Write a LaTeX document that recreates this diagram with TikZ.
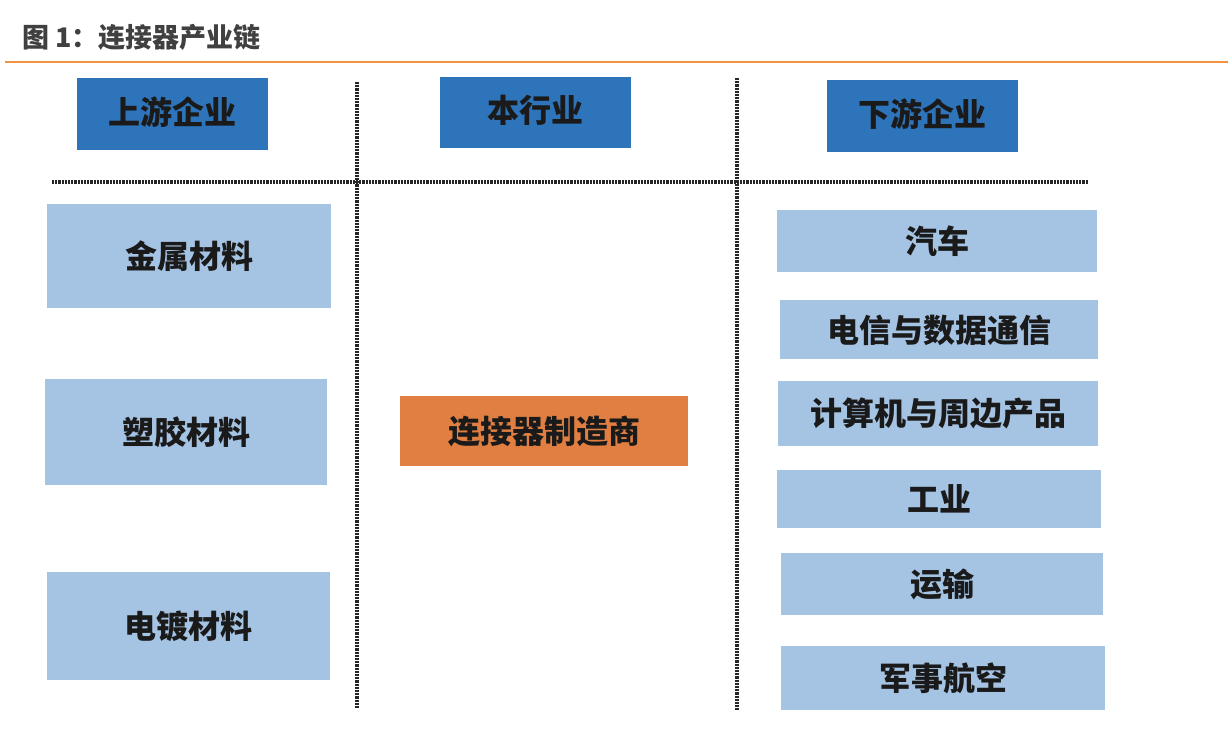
\documentclass[tikz,border=0pt]{standalone}
\usepackage{fontspec}
\setmainfont{Noto Sans CJK SC}
\definecolor{hdrblue}{HTML}{2E74BA}
\definecolor{lightblue}{HTML}{A5C3E3}
\definecolor{boxorange}{HTML}{E07F41}
\definecolor{lineorange}{HTML}{F0923F}
\definecolor{titlegray}{HTML}{404040}
\definecolor{txt}{HTML}{1A1A1A}
\tikzset{
  lbl/.style={inner sep=0pt, text=txt, font=\fontsize{32}{36}\selectfont\bfseries},
  sep/.style={line width=3.5pt, black!85, dash pattern=on 2.2pt off 1pt},
}
\begin{document}
\begin{tikzpicture}[x=1pt,y=-1pt]
\useasboundingbox (0,0) rectangle (1228,738);
% title
\node[anchor=west, text=titlegray, font=\fontsize{27}{30}\selectfont\bfseries, inner sep=0pt] (title) at (22,37) {图 1：连接器产业链};
\coordinate (tl) at (5,62); \coordinate (tr) at (1228,62);
\draw[lineorange, line width=1.6pt] (tl) -- (tr);
% separators
\coordinate (h1) at (52,182); \coordinate (h2) at (1088,182);
\coordinate (v1a) at (357,82); \coordinate (v1b) at (357,708);
\coordinate (v2a) at (737,78); \coordinate (v2b) at (737,710);
\draw[sep] (h1) -- (h2);
\draw[sep] (v1a) -- (v1b);
\draw[sep] (v2a) -- (v2b);
% header boxes
\fill[hdrblue] (77,78) rectangle (268,150);
\node[lbl] (up) at (172.5,112) {上游企业};
\fill[hdrblue] (440,77) rectangle (631,148);
\node[lbl] (mid) at (535.5,110) {本行业};
\fill[hdrblue] (827,80) rectangle (1018,152);
\node[lbl] (down) at (922.5,114) {下游企业};
% left boxes
\fill[lightblue] (47,204) rectangle (331,308);
\node[lbl] (m1) at (189,256) {金属材料};
\fill[lightblue] (45,379) rectangle (327,485);
\node[lbl] (m2) at (186,432) {塑胶材料};
\fill[lightblue] (47,572) rectangle (330,680);
\node[lbl] (m3) at (188.5,626) {电镀材料};
% middle
\fill[boxorange] (400,396) rectangle (688,466);
\node[lbl] (mf) at (544,431) {连接器制造商};
% right boxes
\fill[lightblue] (777,210) rectangle (1097,272);
\node[lbl] (d1) at (937,241) {汽车};
\fill[lightblue] (780,300) rectangle (1098,359);
\node[lbl] (d2) at (939,330) {电信与数据通信};
\fill[lightblue] (778,381) rectangle (1098,446);
\node[lbl] (d3) at (938,413) {计算机与周边产品};
\fill[lightblue] (777,470) rectangle (1101,528);
\node[lbl] (d4) at (939,499) {工业};
\fill[lightblue] (781,553) rectangle (1103,615);
\node[lbl] (d5) at (942,584) {运输};
\fill[lightblue] (781,646) rectangle (1105,710);
\node[lbl] (d6) at (943,678) {军事航空};
\end{tikzpicture}
\end{document}
